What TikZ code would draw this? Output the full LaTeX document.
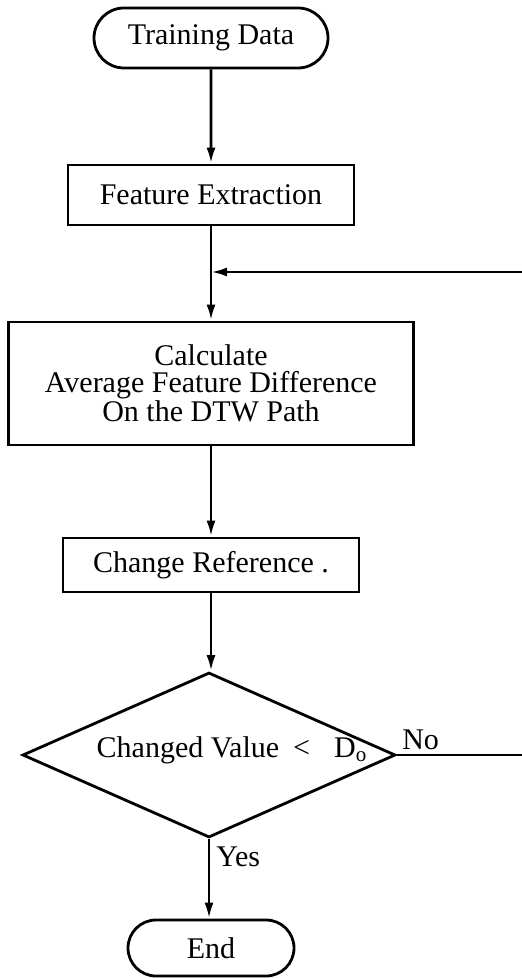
\documentclass[tikz,border=0pt]{standalone}
\usepackage{fontspec}
\setmainfont{Liberation Serif}
\usetikzlibrary{arrows.meta}
\usetikzlibrary{shapes.geometric}
\usetikzlibrary{shapes.misc}

\begin{document}
\begin{tikzpicture}[x=0.5pt,y=-0.5pt]
	\tikzset{every node/.style={font=\fontsize{15pt}{13.5pt}\selectfont}}
	\tikzset{terminal/.style={shape=rounded rectangle, draw, line width=1.4pt, inner sep=0pt}}
	\tikzset{process/.style={shape=rectangle, draw, line width=1.4pt, inner sep=0pt, align=center}}
	\tikzset{decision/.style={shape=diamond, draw, line width=1.4pt, inner sep=0pt, aspect=2.26}}
	\tikzset{flow/.style={-{Latex[length=8pt,width=4.5pt]}, line width=1.4pt}}
	\clip (0,0) rectangle (522,978);
	%blocks
	\node[terminal, minimum width=117pt, minimum height=30pt] (train) at (211,38) {Training Data};
	\node[process, minimum width=143pt, minimum height=30pt] (feat) at (211,195) {Feature Extraction};
	\node[process, minimum width=202.5pt, minimum height=61.5pt] (calc) at (211,383.5) {Calculate\\Average Feature Difference\\On the DTW Path};
	\node[process, minimum width=148pt, minimum height=27pt] (change) at (211,565) {Change Reference\ .};
	\node[decision, minimum width=186.5pt, minimum height=82.5pt] (test) at (209,755) {};
	\node[anchor=base] (testtext) at (232,757) {Changed Value\hspace{7pt}<\hspace{12pt}D\textsubscript{o}};
	\node[terminal, minimum width=83pt, minimum height=28pt] (end) at (211,948) {End};
	%loop points
	\coordinate (join) at (211,272);
	\coordinate (noturn) at (540,755);
	\coordinate (backturn) at (540,272);
	%edges
	\draw[flow] (train) -- (feat);
	\draw[line width=1.4pt] (feat) -- (join);
	\draw[flow] (join) -- (calc);
	\draw[flow] (calc) -- (change);
	\draw[flow] (change) -- (change |- test.north);
	\draw[flow] (test.south) -- node[anchor=west, inner sep=3pt, pos=0.22] (yes) {Yes} (test.south |- end.north);
	\draw[flow] (test.east) node[anchor=south west, inner sep=2pt] (no) {No} -- (noturn) -- (backturn) -- (join);
\end{tikzpicture}
\end{document}
